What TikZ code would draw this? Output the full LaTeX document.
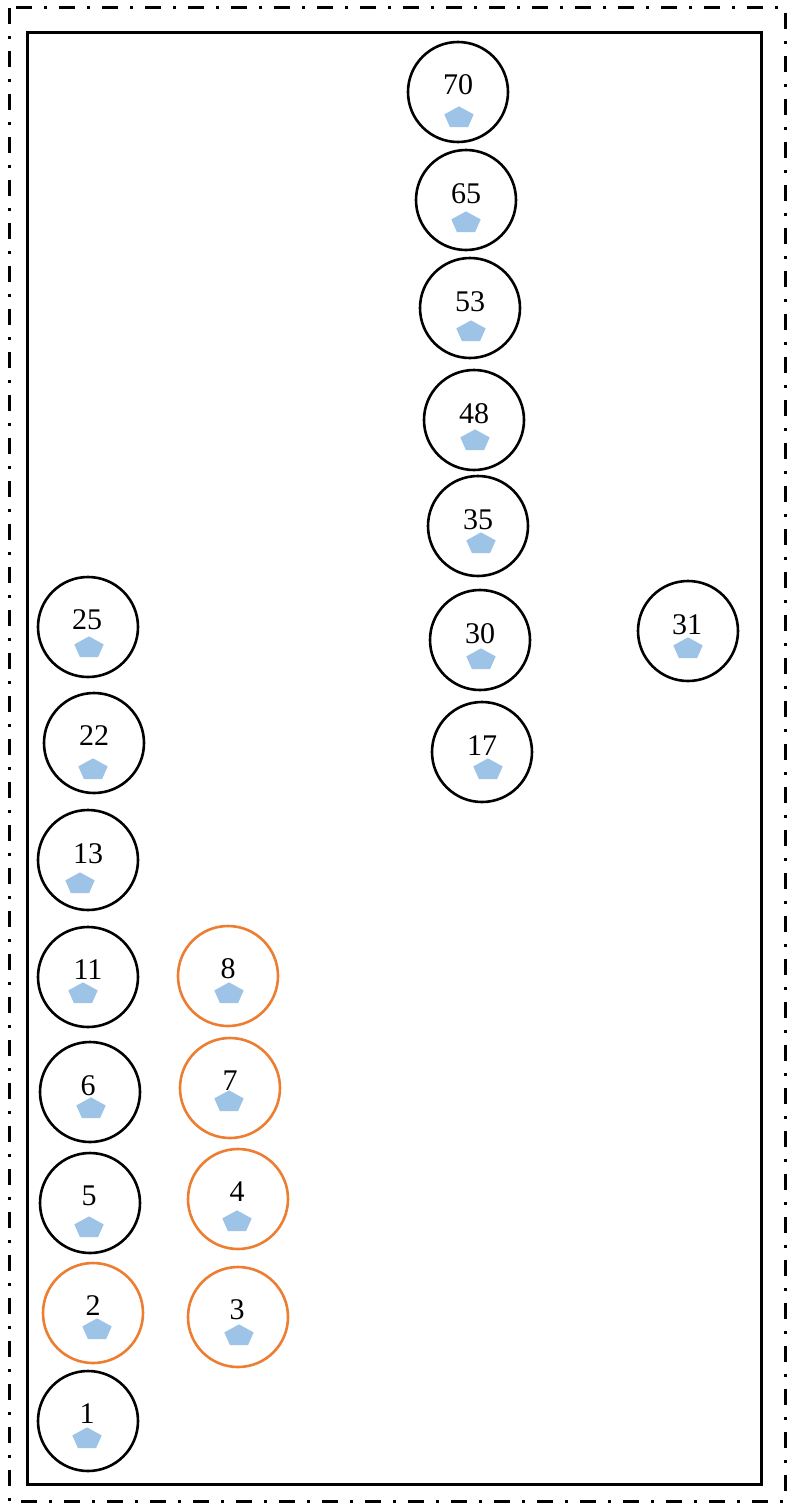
\documentclass[tikz,border=0pt]{standalone}
\usepackage{fontspec}
\setmainfont{Liberation Serif}
\definecolor{ringorange}{HTML}{ED7D31}
\definecolor{pentblue}{HTML}{9DC3E6}
\begin{document}
\begin{tikzpicture}[x=1pt,y=-1pt,
  ring/.style={draw=black,line width=2.6pt,circle,minimum size=100pt,inner sep=0pt},
  oring/.style={ring,draw=ringorange},
  numtxt/.style={font=\fontsize{30}{32}\selectfont,inner sep=0pt},
  pent/.style={fill=pentblue,draw=none}]
\useasboundingbox (0,0) rectangle (803,1504);
\draw[line width=3pt,dash pattern=on 16pt off 12pt on 3pt off 12pt] (9,8) rectangle (785,1501);
\draw[line width=3pt] (27.5,33) rectangle (761,1484);
\newcommand{\pentagon}[2]{%
  \fill[pent] (#1,#2) ++(0,-11.6) -- ++(14.7,8.0) -- ++(-5.6,12.6) -- ++(-18.2,0) -- ++(-5.6,-12.6) -- cycle;}
% name, style, cx, cy, label x, label y, pent x, pent y
\foreach \n/\s/\cx/\cy/\lx/\ly/\px/\py in {
  70/ring/458/92/458/85/459/118,
  65/ring/466/200/466/194/466/223,
  53/ring/470/308/470/302/471/332,
  48/ring/474/420/474/414/475/441,
  35/ring/478/526/478/520/481/544,
  30/ring/480/640/480/634/481/660,
  17/ring/482/752/482/746/488/770,
  31/ring/688/631/687/625/688/649,
  25/ring/88/627/87/620/89/648,
  22/ring/94/743/94/736/93/770,
  13/ring/88/860/88/854/80/884,
  11/ring/88/977/88/970/83/994,
  6/ring/90/1092/88/1086/91/1109,
  5/ring/90/1203/89/1196/89/1228,
  2/oring/93/1313/93/1306/97/1330,
  1/ring/88/1421/87/1414/87/1439,
  8/oring/228/976/228/969/229/994,
  7/oring/230/1088/230/1081/229/1102,
  4/oring/238/1199/237/1192/237/1222,
  3/oring/238/1317/237/1310/239/1336}{
  \node[\s] (c\n) at (\cx,\cy) {};
  \pentagon{\px}{\py}
  \node[numtxt] (t\n) at (\lx,\ly) {\n};
}
\end{tikzpicture}
\end{document}
